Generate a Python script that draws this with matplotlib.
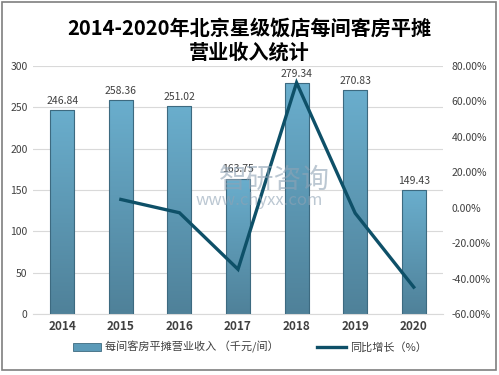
import matplotlib
matplotlib.use("Agg")
import matplotlib.pyplot as plt
import numpy as np
from matplotlib.colors import LinearSegmentedColormap
from matplotlib.patches import Rectangle, Patch
from matplotlib.lines import Line2D

plt.rcParams['font.family'] = ['Noto Sans CJK SC', 'DejaVu Sans']

years = ['2014', '2015', '2016', '2017', '2018', '2019', '2020']
revenue = [246.84, 258.36, 251.02, 163.75, 279.34, 270.83, 149.43]
growth_years = ['2015', '2016', '2017', '2018', '2019', '2020']
growth = [4.67, -2.84, -34.77, 70.59, -3.05, -44.83]
left_ticks = [0, 50, 100, 150, 200, 250, 300]
right_ticks = [-60, -40, -20, 0, 20, 40, 60, 80]

title = '2014-2020年北京星级饭店每间客房平摊\n营业收入统计'
bar_label = '每间客房平摊营业收入 （千元/间）'
line_label = '同比增长（%）'

fig = plt.figure(figsize=(4.99, 3.75), dpi=100)
fig.patches.append(Rectangle((0.004, 0.013), 0.990, 0.981, transform=fig.transFigure,
                             fill=False, edgecolor='#7f7f7f', linewidth=1.2))

ax = fig.add_axes([33/499, 61/375, 410/499, 248/375])
x = np.arange(len(years))
bars = ax.bar(x, revenue, width=0.41, color='#5b9ab8', edgecolor='#3d6a80', linewidth=0.8, zorder=2)

cmap = LinearSegmentedColormap.from_list('g', ['#4f8199', '#6aaecd'])
grad = np.linspace(0, 1, 256).reshape(-1, 1)
for b in bars:
    bx, by, bw, bh = b.get_x(), b.get_y(), b.get_width(), b.get_height()
    im = ax.imshow(grad, extent=[bx, bx + bw, by, by + bh], origin='lower', cmap=cmap,
                   aspect='auto', zorder=2)
    im.set_clip_path(b)
    b.set_facecolor('none')
    b.set_zorder(3)

for xi, v in zip(x, revenue):
    ax.text(xi, v + 5, f'{v:.2f}', ha='center', va='bottom', fontsize=7.5, color='#404040', zorder=5)

ax.set_xlim(-0.5, len(years) - 0.5)
ax.set_ylim(0, 300)
ax.set_yticks(left_ticks)
ax.set_yticklabels([str(t) for t in left_ticks], fontsize=7.5, color='#404040')
ax.set_xticks(x)
ax.set_xticklabels(years, fontsize=8.5, fontweight='bold', color='#404040')
ax.grid(axis='y', color='#d9d9d9', linewidth=0.8, zorder=0)
ax.set_axisbelow(True)
for s in ax.spines.values():
    s.set_visible(False)
ax.spines['bottom'].set_visible(True)
ax.spines['bottom'].set_color('#d9d9d9')
ax.tick_params(length=0, pad=4)

ax2 = ax.twinx()
gx = [years.index(y) for y in growth_years]
ax2.plot(gx, growth, color='#0e5068', linewidth=2.4, zorder=6, solid_joinstyle='miter')
ax2.set_ylim(-60, 80)
ax2.set_yticks(right_ticks)
ax2.set_yticklabels([f'{t:.2f}%' for t in right_ticks], fontsize=7.5, color='#404040')
for s in ax2.spines.values():
    s.set_visible(False)
ax2.tick_params(length=0, pad=6)

fig.text(0.5, 0.893, title, ha='center', va='center', fontsize=14.5, fontweight='bold',
         color='#000000', linespacing=1.2)

# watermark
fig.text(0.55, 0.52, '智研咨询', ha='center', va='center', fontsize=20, color='#8fa3b5', alpha=0.6, zorder=10)
fig.text(0.52, 0.465, 'www.chyxx.com', ha='center', va='center', fontsize=12, color='#8fa3b5', alpha=0.6, zorder=10)

handles = [Patch(facecolor='#5b9ab8', edgecolor='#3d6a80', linewidth=0.6),
           Line2D([0], [0], color='#0e5068', linewidth=2.4)]
fig.legend(handles, [bar_label, line_label], loc='center', bbox_to_anchor=(0.5, 0.074), ncol=2,
           frameon=False, fontsize=8, handlelength=2.6, handleheight=0.8, columnspacing=3.5,
           handletextpad=0.3, labelcolor='#404040')

fig.savefig('out.png', dpi=100)
